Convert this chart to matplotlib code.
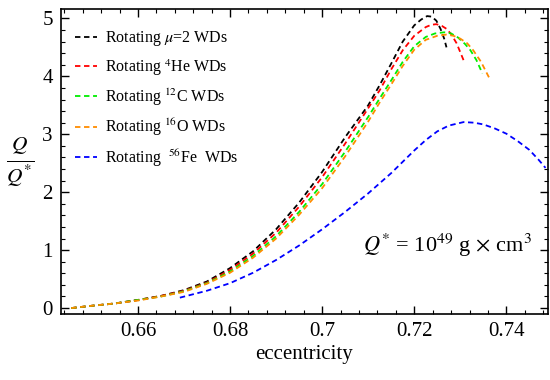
import matplotlib
matplotlib.use("Agg")
import matplotlib.pyplot as plt
from matplotlib.ticker import MultipleLocator

plt.rcParams['font.family'] = ['Liberation Serif', 'DejaVu Serif']
plt.rcParams['mathtext.fontset'] = 'stix'

# eccentricity / Q/Q*
e_mu2 = [0.6455, 0.650, 0.655, 0.660, 0.665, 0.670, 0.675, 0.680, 0.685, 0.690, 0.695,
         0.700, 0.705, 0.710, 0.7125, 0.715, 0.7175, 0.720, 0.7215, 0.7228, 0.7238,
         0.7248, 0.7257, 0.7265, 0.727]
q_mu2 = [0.00, 0.04, 0.08, 0.14, 0.21, 0.31, 0.46, 0.69, 0.98, 1.36, 1.82,
         2.35, 2.95, 3.50, 3.85, 4.22, 4.60, 4.88, 4.98, 5.04, 5.03,
         4.96, 4.82, 4.65, 4.50]

e_he = [0.6455, 0.650, 0.655, 0.660, 0.665, 0.670, 0.675, 0.680, 0.685, 0.690, 0.695,
        0.700, 0.705, 0.710, 0.7125, 0.715, 0.7175, 0.720, 0.7225, 0.7237, 0.7248,
        0.726, 0.727, 0.728, 0.7292, 0.7307]
q_he = [0.00, 0.04, 0.08, 0.14, 0.21, 0.30, 0.44, 0.66, 0.94, 1.30, 1.75,
        2.26, 2.84, 3.45, 3.76, 4.12, 4.45, 4.70, 4.85, 4.89, 4.90,
        4.87, 4.82, 4.73, 4.57, 4.28]

e_c = [0.6455, 0.650, 0.655, 0.660, 0.665, 0.670, 0.675, 0.680, 0.685, 0.690, 0.695,
       0.700, 0.705, 0.710, 0.7125, 0.715, 0.7175, 0.720, 0.7225, 0.7245, 0.7265,
       0.728, 0.7295, 0.731, 0.7322, 0.7335, 0.7348]
q_c = [0.00, 0.04, 0.08, 0.14, 0.20, 0.29, 0.43, 0.63, 0.90, 1.24, 1.66,
       2.14, 2.70, 3.30, 3.62, 3.93, 4.25, 4.52, 4.68, 4.74, 4.76,
       4.74, 4.67, 4.56, 4.45, 4.28, 4.05]

e_o = [0.6455, 0.650, 0.655, 0.660, 0.665, 0.670, 0.675, 0.680, 0.685, 0.690, 0.695,
       0.700, 0.705, 0.710, 0.7125, 0.715, 0.7175, 0.720, 0.7225, 0.725, 0.727,
       0.7285, 0.730, 0.7315, 0.7328, 0.7345, 0.7363]
q_o = [0.00, 0.04, 0.08, 0.13, 0.20, 0.28, 0.42, 0.61, 0.87, 1.20, 1.61,
       2.07, 2.62, 3.22, 3.55, 3.86, 4.18, 4.46, 4.63, 4.70, 4.72,
       4.70, 4.65, 4.57, 4.45, 4.25, 3.97]

e_fe = [0.6691, 0.675, 0.680, 0.685, 0.690, 0.695, 0.700, 0.705, 0.710, 0.715, 0.720,
        0.7225, 0.725, 0.7275, 0.7307, 0.733, 0.735, 0.7375, 0.740, 0.7425, 0.745,
        0.747, 0.7485]
q_fe = [0.18, 0.30, 0.43, 0.61, 0.83, 1.08, 1.36, 1.66, 1.98, 2.33, 2.72,
        2.90, 3.05, 3.15, 3.21, 3.20, 3.17, 3.10, 3.01, 2.88, 2.73,
        2.56, 2.42]

labels = [r'Rotating $\mu$=2 WDs', r'Rotating $^{4}$He WDs', r'Rotating $^{12}$C WDs',
          r'Rotating $^{16}$O WDs', r'Rotating  $^{56}$Fe  WDs']
colors = ['black', '#ff0000', '#00ee00', '#ff8c00', '#0000ff']

fig = plt.figure(figsize=(5.5, 3.8), dpi=100)
ax = fig.add_axes([0.111, 0.174, 0.885, 0.802])

series = [(e_mu2, q_mu2), (e_he, q_he), (e_c, q_c), (e_o, q_o), (e_fe, q_fe)]
for (e, q), c, lab in zip(series, colors, labels):
    ax.plot(e, q, color=c, lw=1.3, dashes=(3, 2), label=lab)

ax.set_xlim(0.6433, 0.749)
ax.set_ylim(-0.1, 5.16)
ax.xaxis.set_minor_locator(MultipleLocator(0.004))
ax.yaxis.set_major_locator(MultipleLocator(1))
ax.yaxis.set_minor_locator(MultipleLocator(0.2))
ax.set_xticks([0.66, 0.68, 0.70, 0.72, 0.74])
ax.set_xticklabels(['0.66', '0.68', '0.7', '0.72', '0.74'])
ax.tick_params(which='both', direction='in', top=True, right=True, labelsize=15, pad=6)
ax.tick_params(which='major', length=6, width=1)
ax.tick_params(which='minor', length=3, width=0.8)
for s in ax.spines.values():
    s.set_linewidth(1.2)

ax.set_xlabel('eccentricity', fontsize=15, labelpad=3)
ax.set_ylabel(r'$\frac{Q}{Q^{*}}$', fontsize=22, rotation=0, labelpad=16, va='center')

ax.legend(loc='upper left', fontsize=11.5, frameon=False, handlelength=1.4,
          handletextpad=0.5, labelspacing=0.56, borderaxespad=0.0,
          bbox_to_anchor=(0.015, 0.955))

ax.text(0.795, 0.226, r'$Q^{*}$ = 10$^{49}$ g$\,\times\,$cm$^{3}$', transform=ax.transAxes,
        fontsize=16, ha='center', va='center')

fig.savefig('out.png', dpi=100)
